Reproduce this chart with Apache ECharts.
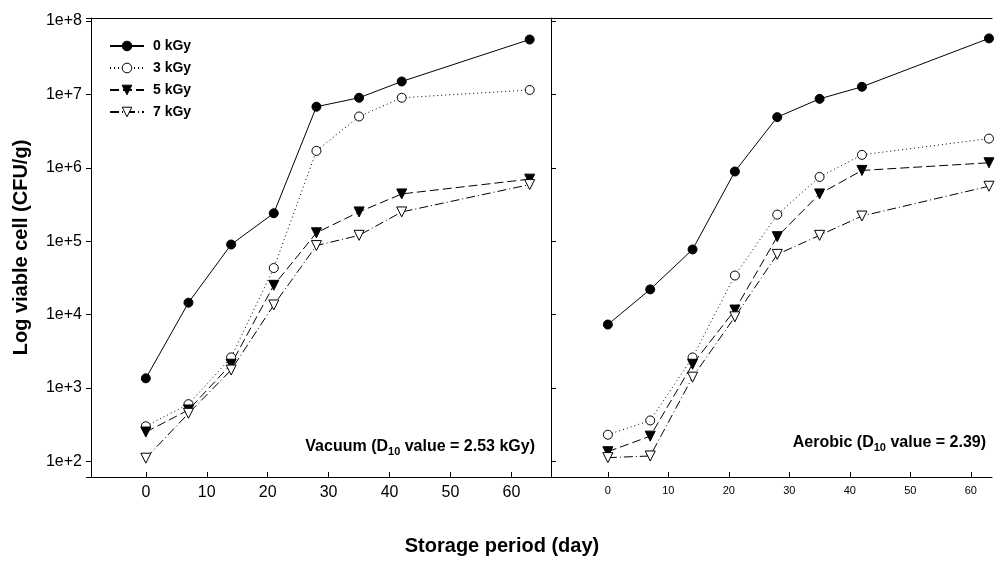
<!DOCTYPE html>
<html>
<head>
<meta charset="utf-8">
<script src="https://cdn.jsdelivr.net/npm/echarts@6/dist/echarts.min.js"></script>
<style>
  html, body { margin: 0; padding: 0; background: #fff; }
  #main { width: 1004px; height: 561px; }
</style>
</head>
<body>
<div id="main"></div>
<script>
// storage days and tick labels
const days = [0, 7, 14, 21, 28, 35, 42, 63]
const dayTicks = [0, 10, 20, 30, 40, 50, 60]
const doseNames = ['0 kGy', '3 kGy', '5 kGy', '7 kGy']

// vacuum packed (CFU/g)
const vac0 = [1.35e3, 1.45e4, 9.0e4, 2.4e5, 6.8e6, 9.0e6, 1.5e7, 5.6e7]
const vac3 = [3.0e2, 6.0e2, 2.6e3, 4.3e4, 1.7e6, 5.0e6, 9.0e6, 1.15e7]
const vac5 = [2.5e2, 5.0e2, 2.1e3, 2.5e4, 1.3e5, 2.5e5, 4.4e5, 7.0e5]
const vac7 = [1.1e2, 4.5e2, 1.75e3, 1.35e4, 8.7e4, 1.2e5, 2.5e5, 5.9e5]

// aerobic packed (CFU/g)
const aer0 = [7.3e3, 2.2e4, 7.7e4, 8.9e5, 4.9e6, 8.7e6, 1.27e7, 5.8e7]
const aer3 = [2.3e2, 3.6e2, 2.6e3, 3.4e4, 2.3e5, 7.5e5, 1.5e6, 2.5e6]
const aer5 = [1.35e2, 2.2e2, 2.1e3, 1.15e4, 1.15e5, 4.4e5, 9.2e5, 1.17e6]
const aer7 = [1.12e2, 1.18e2, 1.4e3, 9.3e3, 6.6e4, 1.2e5, 2.2e5, 5.6e5]

const font = 'Liberation Sans, Arial, sans-serif'

const myChart = echarts.init(document.getElementById('main'))

// look of each dose line
const styles = [
  { symbol: 'circle', rotate: 0, fill: '#000', type: 'solid' },
  { symbol: 'circle', rotate: 0, fill: '#fff', type: [1, 3] },
  { symbol: 'triangle', rotate: 180, fill: '#000', type: [9, 4] },
  { symbol: 'triangle', rotate: 180, fill: '#fff', type: [9, 3, 1, 3] }
]

function makeSeries (values, i, grid) {
  const s = styles[i]
  return {
    name: doseNames[i],
    type: 'line',
    xAxisIndex: grid,
    yAxisIndex: grid,
    data: days.map((d, k) => [d, values[k]]),
    symbol: s.symbol,
    symbolRotate: s.rotate,
    symbolSize: s.symbol === 'circle' ? 9 : 10,
    showAllSymbol: true,
    lineStyle: { color: '#000', width: 1, type: s.type },
    itemStyle: { color: s.fill, borderColor: '#000', borderWidth: 1 },
    emphasis: { disabled: true },
    animation: false
  }
}

function logLabel (v) {
  const e = Math.log10(v)
  if (Math.abs(e - Math.round(e)) > 1e-6) return ''
  return '1e+' + Math.round(e)
}

function bottomAxis (grid, min, max, size) {
  return {
    type: 'value',
    gridIndex: grid,
    position: 'bottom',
    min: min,
    max: max,
    axisLine: { onZero: false, lineStyle: { color: '#000', width: 1 } },
    axisTick: { inside: true, length: 5, customValues: dayTicks, lineStyle: { color: '#000' } },
    axisLabel: { customValues: dayTicks, color: '#000', fontSize: size, fontFamily: font, margin: 8 },
    splitLine: { show: false }
  }
}

function topAxis (grid, min, max) {
  return {
    type: 'value',
    gridIndex: grid,
    position: 'top',
    min: min,
    max: max,
    axisLine: { onZero: false, lineStyle: { color: '#000', width: 1 } },
    axisTick: { show: false },
    axisLabel: { show: false },
    splitLine: { show: false }
  }
}

function logAxis (grid, withLabels) {
  return {
    type: 'log',
    logBase: 10,
    gridIndex: grid,
    position: 'left',
    min: 61,
    max: 1.1e8,
    name: withLabels ? 'Log viable cell (CFU/g)' : '',
    nameLocation: 'middle',
    nameGap: 60,
    nameTextStyle: { color: '#000', fontSize: 20, fontWeight: 'bold', fontFamily: font },
    axisLine: { show: true, onZero: false, lineStyle: { color: '#000', width: 1 } },
    axisTick: { inside: !withLabels, length: 5, lineStyle: { color: '#000' } },
    axisLabel: { show: withLabels, formatter: logLabel, color: '#000', fontSize: 16, fontFamily: font, margin: 9 },
    splitLine: { show: false },
    minorTick: { show: false }
  }
}

const option = {
  backgroundColor: '#fff',
  animation: false,
  grid: [
    { left: 91, top: 18, width: 460, height: 459 },
    { left: 551, top: 18, width: 441, height: 459 }
  ],
  xAxis: [
    bottomAxis(0, -9, 66.5, 16),
    bottomAxis(1, -9.4, 63.5, 11),
    topAxis(0, -9, 66.5),
    topAxis(1, -9.4, 63.5)
  ],
  yAxis: [logAxis(0, true), logAxis(1, false)],
  legend: {
    data: doseNames,
    orient: 'vertical',
    left: 104,
    top: 34,
    itemWidth: 34,
    itemHeight: 12,
    itemGap: 8,
    itemStyle: { borderWidth: 1 },
    textStyle: { color: '#000', fontSize: 14, fontWeight: 'bold', fontFamily: font, padding: [0, 0, 0, 4] },
    selectedMode: false
  },
  graphic: [
    {
      type: 'text',
      right: 1004 - 535,
      top: 439,
      style: {
        text: '{b|Vacuum (D}{s|10}{b| value = 2.53 kGy)}',
        rich: {
          b: { fontSize: 16, fontWeight: 'bold', fontFamily: font, fill: '#000', lineHeight: 20 },
          s: { fontSize: 11, fontWeight: 'bold', fontFamily: font, fill: '#000', lineHeight: 10, verticalAlign: 'bottom' }
        }
      }
    },
    {
      type: 'text',
      right: 1004 - 986,
      top: 435,
      style: {
        text: '{b|Aerobic (D}{s|10}{b| value = 2.39)}',
        rich: {
          b: { fontSize: 16, fontWeight: 'bold', fontFamily: font, fill: '#000', lineHeight: 20 },
          s: { fontSize: 11, fontWeight: 'bold', fontFamily: font, fill: '#000', lineHeight: 10, verticalAlign: 'bottom' }
        }
      }
    },
    {
      type: 'text',
      left: 'center',
      top: 536,
      style: {
        text: 'Storage period (day)',
        fill: '#000',
        font: 'bold 20px ' + font
      }
    }
  ],
  series: [
    makeSeries(vac0, 0, 0),
    makeSeries(vac3, 1, 0),
    makeSeries(vac5, 2, 0),
    makeSeries(vac7, 3, 0),
    makeSeries(aer0, 0, 1),
    makeSeries(aer3, 1, 1),
    makeSeries(aer5, 2, 1),
    makeSeries(aer7, 3, 1)
  ]
}

myChart.setOption(option)
</script>
</body>
</html>
